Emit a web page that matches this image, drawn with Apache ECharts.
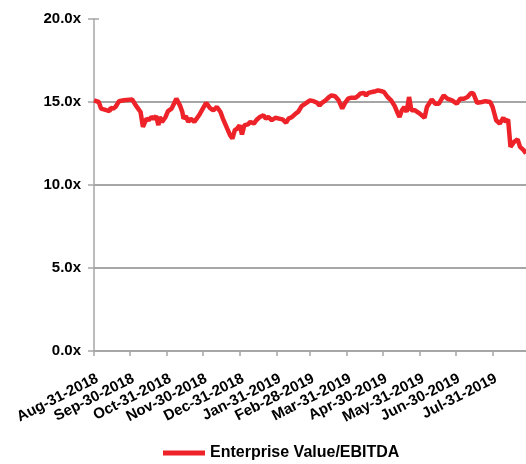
<!DOCTYPE html>
<html>
<head>
<meta charset="utf-8">
<script src="https://cdn.jsdelivr.net/npm/echarts@6/dist/echarts.min.js"></script>
<style>
  html, body { margin: 0; padding: 0; background: #fff; }
  #chart { width: 526px; height: 464px; }
</style>
</head>
<body>
<div id="chart"></div>
<script>
// 日期和数值
const dates = [
  "2018-08-31", "2018-09-04", "2018-09-06", "2018-09-11", "2018-09-13", "2018-09-14", "2018-09-16", "2018-09-18",
  "2018-09-21", "2018-09-25", "2018-10-02", "2018-10-05", "2018-10-09", "2018-10-11", "2018-10-14", "2018-10-16",
  "2018-10-18", "2018-10-20", "2018-10-22", "2018-10-24", "2018-10-25", "2018-10-27", "2018-10-30", "2018-11-01",
  "2018-11-04", "2018-11-06", "2018-11-08", "2018-11-11", "2018-11-13", "2018-11-14", "2018-11-16", "2018-11-18",
  "2018-11-20", "2018-11-23", "2018-11-25", "2018-11-27", "2018-12-01", "2018-12-03", "2018-12-06", "2018-12-09",
  "2018-12-12", "2018-12-15", "2018-12-17", "2018-12-20", "2018-12-23", "2018-12-25", "2018-12-27", "2018-12-29",
  "2018-12-31", "2019-01-02", "2019-01-04", "2019-01-07", "2019-01-09", "2019-01-12", "2019-01-14", "2019-01-17",
  "2019-01-20", "2019-01-22", "2019-01-24", "2019-01-27", "2019-01-30", "2019-02-02", "2019-02-05", "2019-02-08",
  "2019-02-10", "2019-02-13", "2019-02-16", "2019-02-18", "2019-02-21", "2019-02-25", "2019-02-28", "2019-03-03",
  "2019-03-06", "2019-03-08", "2019-03-10", "2019-03-13", "2019-03-16", "2019-03-18", "2019-03-21", "2019-03-24",
  "2019-03-27", "2019-03-29", "2019-04-01", "2019-04-03", "2019-04-07", "2019-04-09", "2019-04-11", "2019-04-14",
  "2019-04-16", "2019-04-18", "2019-04-21", "2019-04-24", "2019-04-26", "2019-04-29", "2019-05-01", "2019-05-04",
  "2019-05-07", "2019-05-10", "2019-05-12", "2019-05-14", "2019-05-16", "2019-05-18", "2019-05-20", "2019-05-22",
  "2019-05-24", "2019-05-27", "2019-05-31", "2019-06-04", "2019-06-06", "2019-06-10", "2019-06-13", "2019-06-16",
  "2019-06-20", "2019-06-23", "2019-06-27", "2019-07-01", "2019-07-04", "2019-07-07", "2019-07-10", "2019-07-13",
  "2019-07-15", "2019-07-18", "2019-07-22", "2019-07-25", "2019-07-29", "2019-07-31", "2019-08-03", "2019-08-06",
  "2019-08-09", "2019-08-11", "2019-08-13", "2019-08-15", "2019-08-18", "2019-08-21", "2019-08-23", "2019-08-26",
  "2019-08-28"
];
const evEbitda = [
  15.1, 15.0, 14.6, 14.5, 14.45, 14.65, 14.6, 14.7,
  15.05, 15.1, 15.15, 14.8, 14.4, 13.5, 14.0, 13.9,
  14.1, 14.0, 14.15, 13.6, 14.1, 13.8, 14.1, 14.45,
  14.6, 14.9, 15.2, 14.8, 14.4, 14.0, 14.15, 13.8,
  14.0, 13.8, 14.0, 14.2, 14.7, 14.95, 14.65, 14.5,
  14.7, 14.4, 14.0, 13.5, 13.0, 12.8, 13.3, 13.4,
  13.6, 13.05, 13.6, 13.65, 13.8, 13.7, 13.9, 14.1,
  14.2, 14.0, 14.1, 13.9, 14.05, 14.0, 13.95, 13.75,
  14.0, 14.1, 14.3, 14.4, 14.75, 14.95, 15.1, 15.05,
  14.95, 14.8, 14.95, 15.1, 15.3, 15.4, 15.35, 15.1,
  14.6, 14.9, 15.2, 15.25, 15.25, 15.35, 15.5, 15.55,
  15.4, 15.55, 15.6, 15.65, 15.7, 15.65, 15.6, 15.3,
  15.1, 14.75, 14.4, 14.1, 14.5, 14.7, 14.4, 15.3,
  14.5, 14.5, 14.3, 14.05, 14.7, 15.15, 14.9, 14.9,
  15.4, 15.2, 15.1, 14.9, 15.2, 15.2, 15.3, 15.55,
  15.5, 14.95, 15.0, 15.05, 15.0, 14.7, 13.9, 13.7,
  14.05, 13.8, 13.95, 12.3, 12.6, 12.75, 12.3, 12.1,
  11.9
];
// x轴刻度（月末）
const tickDates = [
  "2018-08-31", "2018-09-30", "2018-10-31", "2018-11-30", "2018-12-31", "2019-01-31",
  "2019-02-28", "2019-03-31", "2019-04-30", "2019-05-31", "2019-06-30", "2019-07-31"
];
const tickLabels = [
  "Aug-31-2018", "Sep-30-2018", "Oct-31-2018", "Nov-30-2018", "Dec-31-2018", "Jan-31-2019",
  "Feb-28-2019", "Mar-31-2019", "Apr-30-2019", "May-31-2019", "Jun-30-2019", "Jul-31-2019"
];
const startDate = "2018-08-31";
const endDate = "2019-08-28";
const seriesName = "Enterprise Value/EBITDA";

// 日期 -> 距起始日的天数
const dayOf = (s) => {
  const [y, m, d] = s.split("-").map(Number);
  const [y0, m0, d0] = startDate.split("-").map(Number);
  return Math.round((Date.UTC(y, m - 1, d) - Date.UTC(y0, m0 - 1, d0)) / 86400000);
};
const tickDays = tickDates.map(dayOf);
const font = "Liberation Sans, Arial, sans-serif";
const gridColor = "#a6a6a6";

const chart = echarts.init(document.getElementById("chart"));
const option = {
  animation: false,
  grid: { left: 94, right: 0, top: 19, bottom: 113 },
  legend: {
    left: 158,
    top: 440,
    icon: "rect",
    itemWidth: 42,
    itemHeight: 5,
    textStyle: { fontFamily: font, fontWeight: "bold", fontSize: 16, color: "#000" },
    data: [seriesName],
  },
  xAxis: {
    type: "value",
    min: 0,
    max: dayOf(endDate),
    axisLine: { lineStyle: { color: gridColor, width: 1.5 } },
    axisTick: {
      show: true,
      length: 5,
      customValues: tickDays,
      lineStyle: { color: gridColor, width: 1.5 },
    },
    axisLabel: {
      customValues: tickDays,
      rotate: 27,
      margin: 20,
      verticalAlign: "top",
      fontFamily: font,
      fontWeight: "bold",
      fontSize: 15,
      color: "#000",
      formatter: (v) => {
        const i = tickDays.indexOf(Math.round(v));
        return i >= 0 ? tickLabels[i] : "";
      },
    },
    splitLine: { show: false },
  },
  yAxis: [
    {
      type: "value",
      min: 0,
      max: 20,
      interval: 5,
      axisLine: { show: true, lineStyle: { color: gridColor, width: 1.5 } },
      axisTick: { show: true, length: 6, lineStyle: { color: gridColor, width: 1.5 } },
      axisLabel: {
        margin: 13,
        fontFamily: font,
        fontWeight: "bold",
        fontSize: 15,
        color: "#000",
        formatter: (v) => v.toFixed(1) + "x",
      },
      splitLine: { show: true, showMaxLine: false, lineStyle: { color: gridColor, width: 2 } },
    },
    {
      // 刻度向内的部分
      type: "value",
      position: "left",
      min: 0,
      max: 20,
      interval: 5,
      axisLine: { show: false },
      axisTick: { show: true, inside: true, length: 5, lineStyle: { color: gridColor, width: 1.5 } },
      axisLabel: { show: false },
      splitLine: { show: false },
    },
  ],
  series: [
    {
      name: seriesName,
      type: "line",
      yAxisIndex: 0,
      showSymbol: false,
      color: "#ee2229",
      lineStyle: { width: 4.5, color: "#ee2229" },
      data: dates.map((d, i) => [dayOf(d), evEbitda[i]]),
    },
  ],
};
chart.setOption(option);
</script>
</body>
</html>
